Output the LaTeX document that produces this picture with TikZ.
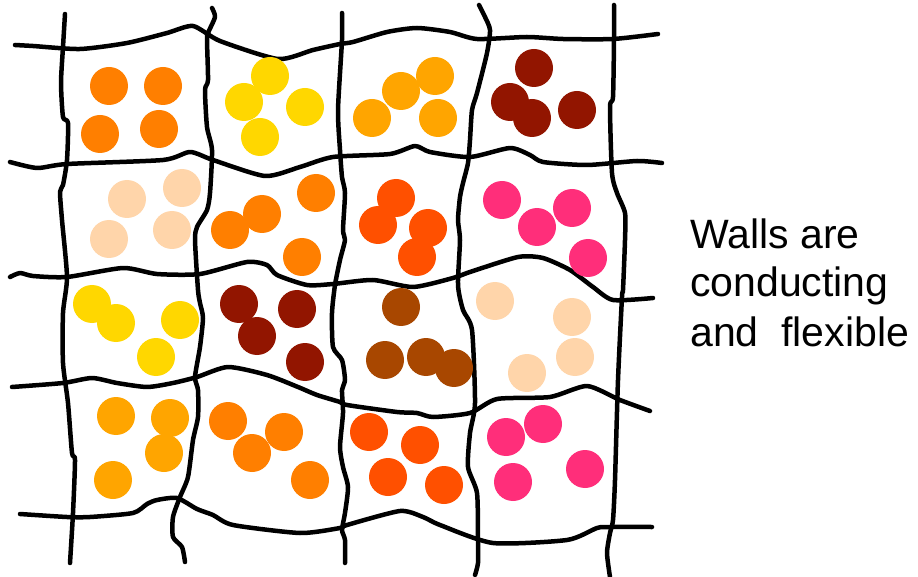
\documentclass[tikz,border=0pt]{standalone}
\usepackage{fontspec}
\setmainfont{Liberation Sans}
\definecolor{corange}{HTML}{FF7F00}
\definecolor{cyellow}{HTML}{FFD700}
\definecolor{cgold}{HTML}{FFA500}
\definecolor{cdarkred}{HTML}{921500}
\definecolor{cpeach}{HTML}{FFD5AA}
\definecolor{credor}{HTML}{FF5000}
\definecolor{cpink}{HTML}{FF2E7A}
\definecolor{cbrown}{HTML}{A84700}
\begin{document}
\begin{tikzpicture}[x=1pt,y=-1pt,
  wall/.style={line width=4.5pt,line cap=round,line join=round,black},
  ball/.style={fill=#1},
  label/.style={anchor=base west,inner sep=0pt,font=\fontsize{41}{48}\selectfont}]
\useasboundingbox (0,0) rectangle (918,577);
% horizontal walls
\draw[wall] plot[smooth,tension=0.4] coordinates {(15,45) (33,46) (80,49) (127,43) (167,33) (193,26) (220,41) (278,59) (313,50) (340,44) (353,42) (387,32) (417,28) (450,32) (477,39) (527,37) (563,39) (613,39) (658,34)};
\draw[wall] plot[smooth,tension=0.4] coordinates {(10,162) (37,168) (67,164) (163,160) (190,152) (213,160) (265,176) (300,167) (333,157) (390,154) (415,146) (430,152) (470,157) (510,148) (530,155) (543,162) (587,165) (637,161) (662,163)};
\draw[wall] plot[smooth,tension=0.4] coordinates {(10,277) (20,273) (33,276) (67,277) (123,268) (157,274) (200,274) (247,262) (267,265) (277,275) (307,285) (333,284) (373,280) (413,287) (453,278) (470,272) (518,257) (543,258) (570,270) (593,287) (613,300) (653,298)};
\draw[wall] plot[smooth,tension=0.4] coordinates {(12,387) (63,383) (92,378) (117,383) (147,387) (173,383) (197,377) (228,367) (267,375) (298,387) (317,395) (340,402) (347,405) (397,412) (417,413) (433,417) (470,413) (497,399) (550,397) (587,386) (620,400) (650,411)};
\draw[wall] plot[smooth,tension=0.4] coordinates {(20,514) (67,517) (90,517) (133,513) (147,504) (157,500) (177,498) (197,509) (213,515) (233,525) (300,533) (340,528) (347,525) (400,511) (423,517) (440,525) (493,543) (567,540) (597,528) (610,527) (652,527)};
% vertical walls
\draw[wall] plot[smooth,tension=0.4] coordinates {(65,14) (63,47) (61,83) (63,117) (68,123) (67,160) (63,185) (60,192) (62,220) (67,277) (63,313) (63,363) (68,403) (72,453) (75,460) (73,513) (70,563)};
\draw[wall] plot[smooth,tension=0.4] coordinates {(212,8) (215,17) (208,33) (207,40) (208,80) (205,90) (207,127) (212,150) (210,193) (207,210) (197,227) (195,240) (198,290) (200,303) (203,318) (200,347) (195,377) (198,390) (198,417) (193,440) (188,477) (180,497) (173,517) (173,537) (182,547) (185,562)};
\draw[wall] plot[smooth,tension=0.4] coordinates {(342,13) (342,40) (338,110) (340,150) (342,177) (345,193) (343,230) (345,240) (340,260) (335,285) (332,313) (333,347) (342,360) (345,380) (342,390) (343,413) (340,447) (343,467) (348,487) (345,513) (342,530) (345,540) (345,563)};
\draw[wall] plot[smooth,tension=0.4] coordinates {(479,5) (485,17) (490,30) (487,53) (477,93) (472,110) (470,140) (468,163) (463,183) (460,197) (458,220) (460,240) (458,285) (463,310) (472,330) (475,403) (470,433) (468,467) (477,493) (478,540) (478,563) (475,575)};
\draw[wall] plot[smooth,tension=0.4] coordinates {(614,5) (614,40) (613,97) (610,107) (612,173) (617,193) (625,213) (625,240) (623,290) (622,297) (618,380) (615,480) (613,520) (610,533) (607,553) (610,577)};
% balls
\foreach \p in {(109,86),(163,86),(100,134),(159,129),(316,193),(262,214),(230,230),(302,257),(228,421),(284,432),(252,453),(310,480)}
  \fill[ball=corange] \p circle (19);
\foreach \p in {(270,76),(244,102),(305,107),(260,137),(92,304),(116,323),(180,320),(156,357)}
  \fill[ball=cyellow] \p circle (19);
\foreach \p in {(127,199),(182,188),(109,239),(172,230),(495,301),(572,317),(575,357),(527,373)}
  \fill[ball=cpeach] \p circle (19);
\foreach \p in {(435,76),(401,91),(372,118),(438,118),(116,416),(170,418),(164,453),(113,480)}
  \fill[ball=cgold] \p circle (19);
\foreach \p in {(534,68),(510,102),(532,118),(577,110),(239,304),(297,309),(257,336),(305,362)}
  \fill[ball=cdarkred] \p circle (19);
\foreach \p in {(396,198),(378,225),(428,228),(417,257),(369,432),(420,445),(388,477),(444,485)}
  \fill[ball=credor] \p circle (19);
\foreach \p in {(502,200),(572,208),(537,227),(588,258),(543,424),(506,437),(585,469),(513,482)}
  \fill[ball=cpink] \p circle (19);
\foreach \p in {(401,307),(385,360),(426,357),(454,368)}
  \fill[ball=cbrown] \p circle (19);
% label
\node[label] (l1) at (690,249) {Walls are};
\node[label] (l2) at (690,297) {conducting};
\node[label] (l3) at (690,346) {and\ \ flexible};
\end{tikzpicture}
\end{document}
